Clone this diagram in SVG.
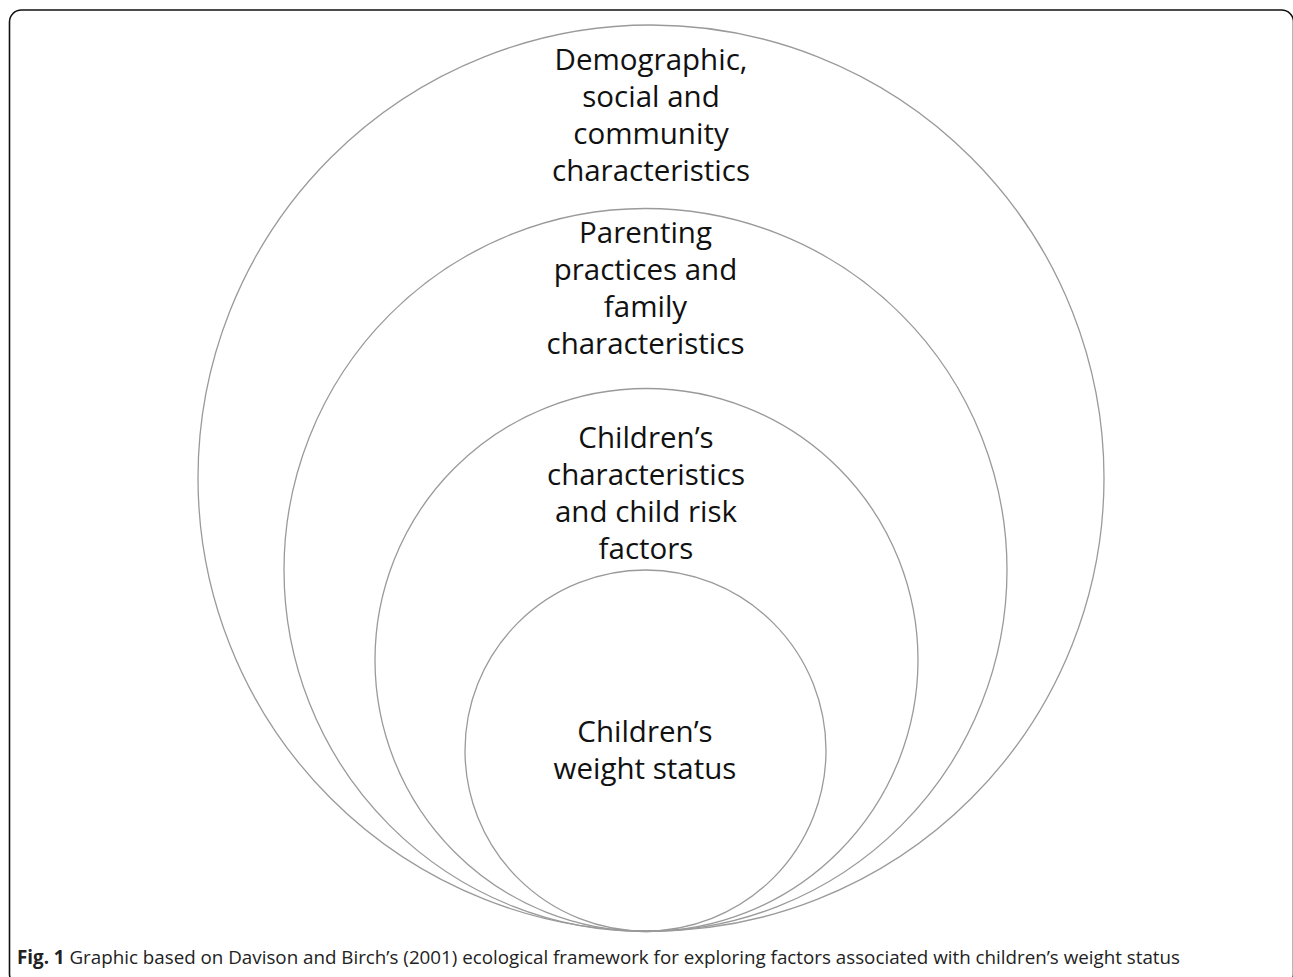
<svg xmlns="http://www.w3.org/2000/svg" width="1293" height="977" viewBox="0 0 1293 977">
<style>
.ring{fill:none;stroke:#9a9a9a;stroke-width:1.3}
.lbl{font-family:"Open Sans","Liberation Sans",sans-serif;font-size:29.5px;fill:#111;text-anchor:middle}
.cap{font-family:"Open Sans","Liberation Sans",sans-serif;font-size:19px;fill:#222}
</style>
<rect x="0" y="0" width="1293" height="977" fill="#fff"/>
<rect x="9.5" y="10" width="1284" height="976" rx="12" ry="12" fill="none" stroke="#111" stroke-width="1.6"/>
<g id="outer">
<circle class="ring" cx="651" cy="478" r="453"/>
<text class="lbl" x="651" y="70">Demographic,</text>
<text class="lbl" x="651" y="107">social and</text>
<text class="lbl" x="651" y="144">community</text>
<text class="lbl" x="651" y="181">characteristics</text>
</g>
<g id="family">
<circle class="ring" cx="645.5" cy="570" r="361.5"/>
<text class="lbl" x="645.5" y="243">Parenting</text>
<text class="lbl" x="645.5" y="280">practices and</text>
<text class="lbl" x="645.5" y="317">family</text>
<text class="lbl" x="645.5" y="354">characteristics</text>
</g>
<g id="child">
<circle class="ring" cx="646.5" cy="660" r="271.5"/>
<text class="lbl" x="646" y="448">Children’s</text>
<text class="lbl" x="646" y="485">characteristics</text>
<text class="lbl" x="646" y="522">and child risk</text>
<text class="lbl" x="646" y="559">factors</text>
</g>
<g id="weight">
<circle class="ring" cx="645.5" cy="750.5" r="180.5"/>
<text class="lbl" x="645" y="742">Children’s</text>
<text class="lbl" x="645" y="779">weight status</text>
</g>
<g id="connectors"></g>
<text class="cap" x="17" y="964" textLength="1163" lengthAdjust="spacingAndGlyphs"><tspan font-weight="bold">Fig. 1</tspan> Graphic based on Davison and Birch’s (2001) ecological framework for exploring factors associated with children’s weight status</text>
</svg>
